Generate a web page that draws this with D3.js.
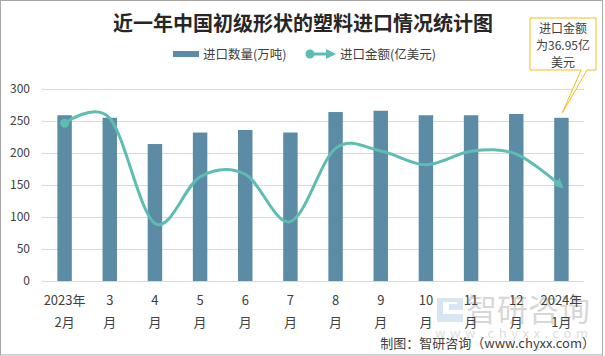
<!DOCTYPE html>
<html><head><meta charset="utf-8">
<script src="https://cdn.jsdelivr.net/npm/d3@7"></script>
<style>body{margin:0;background:#fff}svg{display:block}text{font-family:"Noto Sans CJK SC","Noto Sans",sans-serif}</style>
</head><body><svg id="c" width="605" height="356"></svg>
<script>
const labelTop = ["2023年","3","4","5","6","7","8","9","10","11","12","2024年"];
const labelBottom = ["2月","月","月","月","月","月","月","月","月","月","月","1月"];
const volume = [259, 255, 214, 232, 236, 232, 264, 266, 259, 259, 261, 255];
const amount = [61.6, 63.6, 22.5, 40.7, 41.7, 23.2, 51.8, 50.8, 45.4, 50.7, 49.6, 36.95];
const yTicks = [0, 50, 100, 150, 200, 250, 300];
const title = "近一年中国初级形状的塑料进口情况统计图";
const seriesNames = ["进口数量(万吨)", "进口金额(亿美元)"];
const calloutLines = ["进口金额", "为36.95亿", "美元"];

const svg = d3.select("#c");
const pL = 42, pR = 584, pT = 89, pB = 281;
const idx = d3.range(labelTop.length);
const x = d3.scaleBand().domain(idx).range([pL, pR]).paddingInner(0.68).paddingOuter(0.34);
const y = d3.scaleLinear().domain([0, 300]).range([pB, pT]);
const y2 = d3.scaleLinear().domain([0, 75]).range([pB, pT]);
const cx = i => x(i) + x.bandwidth() / 2;

const defs = svg.append("defs");
defs.append("marker").attr("id", "arr").attr("viewBox", "0 0 10 10")
  .attr("refX", 7).attr("refY", 5).attr("markerWidth", 10).attr("markerHeight", 10)
  .attr("markerUnits", "userSpaceOnUse").attr("orient", "auto")
  .append("path").attr("d", "M0,0 L10,5 L0,10 Z").attr("fill", "#5dbdb1");

// frame
svg.append("rect").attr("x", 0.5).attr("y", 0.5).attr("width", 602).attr("height", 354.5)
  .attr("fill", "none").attr("stroke", "#a6a6a6");

// title
svg.append("text").attr("x", 303).attr("y", 31).attr("text-anchor", "middle")
  .attr("font-size", 20).attr("font-weight", 700).attr("fill", "#262626").text(title);

// legend
svg.append("rect").attr("x", 173).attr("y", 51).attr("width", 26).attr("height", 6).attr("fill", "#5c8ba6");
svg.append("text").attr("x", 203).attr("y", 58.5).attr("font-size", 12.5).attr("fill", "#404040").text(seriesNames[0]);
svg.append("line").attr("x1", 310).attr("x2", 333).attr("y1", 54).attr("y2", 54)
  .attr("stroke", "#5dbdb1").attr("stroke-width", 3).attr("marker-end", "url(#arr)");
svg.append("circle").attr("cx", 310).attr("cy", 54).attr("r", 4.5).attr("fill", "#5dbdb1");
svg.append("text").attr("x", 340).attr("y", 58.5).attr("font-size", 12.5).attr("fill", "#404040").text(seriesNames[1]);

// grid + y axis
const yAxis = d3.axisLeft(y).tickValues(yTicks).tickSize(-(pR - pL)).tickPadding(12);
const gy = svg.append("g").attr("transform", `translate(${pL},0)`).call(yAxis);
gy.select(".domain").remove();
gy.selectAll(".tick line").attr("stroke", "#d9d9d9");
gy.selectAll(".tick text").attr("font-size", 12).attr("fill", "#404040")
  .attr("font-family", '"Noto Sans CJK SC","Noto Sans",sans-serif');

// watermark
const wm = svg.append("g").attr("opacity", 0.55);
wm.append("path").attr("d", "M437,298 h26 v12 h-14 v-6 h8 v-2 h-14 v12 h20 v8 h-26 z").attr("fill", "#b9d3ea");
wm.append("text").attr("x", 466).attr("y", 321).attr("font-size", 31).attr("fill", "#b8b8b8").text("智研咨询");
wm.append("text").attr("x", 435).attr("y", 338).attr("font-size", 13).attr("letter-spacing", 4.6).attr("fill", "#c4c4c4").text("www.chyxx.com");

// bars
svg.append("g").selectAll("rect").data(volume).join("rect")
  .attr("x", (d, i) => x(i)).attr("width", x.bandwidth())
  .attr("y", d => y(d)).attr("height", d => y(0) - y(d)).attr("fill", "#5c8ba6");

// line
const line = d3.line().x((d, i) => cx(i)).y(d => y2(d)).curve(d3.curveCardinal.tension(0));
svg.append("path").datum(amount).attr("d", line).attr("fill", "none")
  .attr("stroke", "#5dbdb1").attr("stroke-width", 3).attr("marker-end", "url(#arr)");
svg.append("circle").attr("cx", cx(0)).attr("cy", y2(amount[0])).attr("r", 4.5).attr("fill", "#5dbdb1");

// x labels
const xl = svg.append("g").selectAll("g").data(idx).join("g");
xl.append("text").attr("x", i => cx(i)).attr("y", 305).attr("text-anchor", "middle")
  .attr("font-size", 13).attr("fill", "#404040").text(i => labelTop[i]);
xl.append("text").attr("x", i => cx(i)).attr("y", 327).attr("text-anchor", "middle")
  .attr("font-size", 13).attr("fill", "#404040").text(i => labelBottom[i]);

// callout
const last = volume.length - 1;
const tipX = cx(last) + 1, tipY = y(volume[last]) - 5;
svg.append("path").attr("d", `M530,18 H596 V70 H587 L${tipX},${tipY} L581,70 H530 Z`)
  .attr("fill", "#fff").attr("stroke", "#f5bd1f").attr("stroke-width", 1);
svg.append("g").selectAll("text").data(calloutLines).join("text")
  .attr("x", 563).attr("y", (d, i) => 33 + i * 17).attr("text-anchor", "middle")
  .attr("font-size", 12).attr("fill", "#404040").text(d => d);

// footer
svg.append("text").attr("x", 595).attr("y", 348).attr("text-anchor", "end")
  .attr("font-size", 13).attr("fill", "#404040").text("制图：智研咨询（www.chyxx.com）");
</script></body></html>
